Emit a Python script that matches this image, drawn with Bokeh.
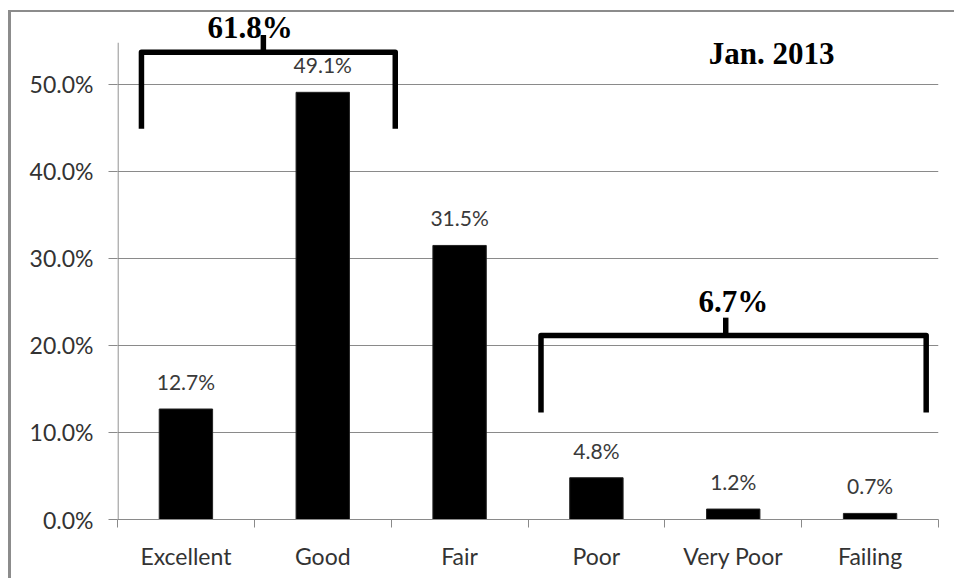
from bokeh.plotting import figure
from bokeh.models import Range1d, FixedTicker, ColumnDataSource
from bokeh.embed import file_html
from bokeh.resources import INLINE
from bokeh.core.properties import value

# ---- data ----
categories = ["Excellent", "Good", "Fair", "Poor", "Very Poor", "Failing"]
shares = [12.7, 49.1, 31.5, 4.8, 1.2, 0.7]
share_labels = ["12.7%", "49.1%", "31.5%", "4.8%", "1.2%", "0.7%"]
y_ticks = [0, 10, 20, 30, 40, 50]
y_tick_labels = ["0.0%", "10.0%", "20.0%", "30.0%", "40.0%", "50.0%"]
group_totals = ["61.8%", "6.7%"]
period_label = "Jan. 2013"

# ---- layout ----
W, H = 954, 578
GRAY = "#8a8a8a"
LABEL_FONT = "Lato"
SERIF = "Liberation Serif"

xs = [i + 0.5 for i in range(len(categories))]

p = figure(width=W, height=H, output_backend="svg", toolbar_location=None,
           x_range=Range1d(0, len(categories)), y_range=Range1d(0, 58.16),
           min_border_left=117, min_border_right=16, min_border_top=13,
           min_border_bottom=59)
p.outline_line_color = None
p.background_fill_color = "white"
p.border_fill_color = None

# outer chart border (left and top edges only; cut off at right and bottom),
# drawn as a CSS background behind the transparent canvas border area
line = "linear-gradient(#8c8c8c, #8c8c8c)"
p.styles = {
    "background": (f"{line} 8px 10px / 3px 100% no-repeat, "
                   f"{line} 8px 10px / 100% 2px no-repeat, white")
}

# x axis: labels at category centres, ticks at category boundaries
p.xaxis.ticker = FixedTicker(ticks=xs, minor_ticks=list(range(len(categories) + 1)))
p.xaxis.major_label_overrides = {x: c for x, c in zip(xs, categories)}
p.xaxis.major_tick_out = 0
p.xaxis.major_tick_in = 0
p.xaxis.minor_tick_out = 8
p.xaxis.minor_tick_in = 0
p.xaxis.minor_tick_line_color = GRAY
p.xaxis.axis_line_color = GRAY
p.xaxis.major_label_standoff = 14
p.xaxis.major_label_text_font = LABEL_FONT
p.xaxis.major_label_text_font_size = "23px"
p.xaxis.major_label_text_color = "#333333"

# y axis
p.yaxis.ticker = FixedTicker(ticks=y_ticks, minor_ticks=[])
p.yaxis.major_label_overrides = {t: l for t, l in zip(y_ticks, y_tick_labels)}
p.yaxis.axis_line_color = None
p.yaxis.major_tick_out = 9
p.yaxis.major_tick_in = 0
p.yaxis.major_tick_line_color = GRAY
p.yaxis.minor_tick_line_color = None
p.yaxis.major_label_standoff = 15
p.yaxis.major_label_text_font = LABEL_FONT
p.yaxis.major_label_text_font_size = "23px"
p.yaxis.major_label_text_color = "#333333"

p.xgrid.grid_line_color = None
p.ygrid.grid_line_color = GRAY
p.ygrid.grid_line_width = 1

# y axis line (stops below the top of the frame)
p.segment(x0=[0.004], y0=[0], x1=[0.004], y1=[54.8], line_color=GRAY, line_width=1.2)

# bars
src = ColumnDataSource(dict(x=xs, top=shares, label=share_labels))
p.vbar(x="x", top="top", width=0.39, source=src, fill_color="black",
       line_color="#222222", line_width=1)
p.text(x="x", y="top", text="label", source=src, y_offset=-15,
       text_align="center", text_baseline="bottom",
       text_font=value(LABEL_FONT), text_font_size="21px", text_color="#3a3a3a")

# group brackets
p.multi_line(xs=[[0.175, 0.175, 2.03, 2.03], [3.095, 3.095, 5.91, 5.91]],
             ys=[[44.9, 53.7, 53.7, 44.9], [12.3, 21.15, 21.15, 12.3]],
             line_color="black", line_width=5.5, line_join="round")
p.segment(x0=[1.066, 4.445], y0=[53.7, 21.15], x1=[1.066, 4.445], y1=[55.7, 23.2],
          line_color="black", line_width=5.5)
p.text(x=[0.97, 4.5], y=[56.6, 25.0], text=group_totals,
       text_align="center", text_baseline="alphabetic",
       text_font=value(SERIF), text_font_style="bold", text_font_size="31px",
       text_color="black")
p.text(x=[4.78], y=[53.6], text=[period_label],
       text_align="center", text_baseline="alphabetic",
       text_font=value(SERIF), text_font_style="bold", text_font_size="31px",
       text_color="black")

open("out.html", "w").write(file_html(p, INLINE))
